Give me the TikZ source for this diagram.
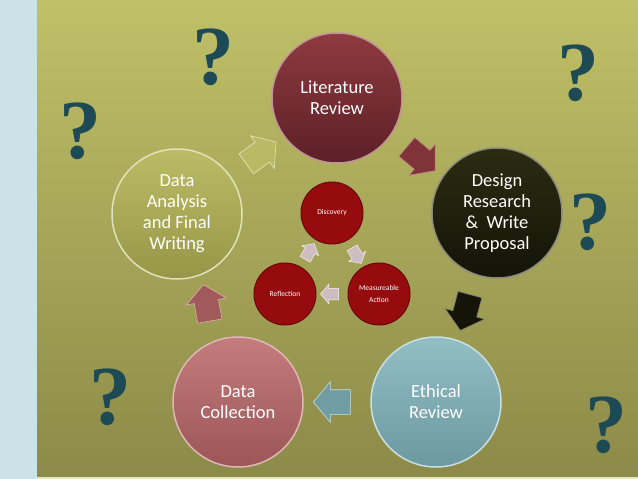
\documentclass[tikz,border=0pt]{standalone}
\usepackage{fontspec}
\setmainfont{Carlito}
\newfontfamily\qmarkfont{Liberation Serif}
\usetikzlibrary{shapes.arrows,calc}

\definecolor{stripblue}{RGB}{203,226,231}
\definecolor{olivetop}{RGB}{192,192,104}
\definecolor{olivebot}{RGB}{140,138,72}
\definecolor{qteal}{RGB}{30,74,85}
\definecolor{litA}{RGB}{142,58,64}
\definecolor{litB}{RGB}{92,32,38}
\definecolor{desA}{RGB}{44,44,18}
\definecolor{desB}{RGB}{20,20,8}
\definecolor{ethA}{RGB}{146,190,196}
\definecolor{ethB}{RGB}{108,152,160}
\definecolor{colA}{RGB}{196,124,124}
\definecolor{colB}{RGB}{156,86,88}
\definecolor{anaA}{RGB}{188,188,102}
\definecolor{anaB}{RGB}{150,150,72}
\definecolor{innerred}{RGB}{150,12,14}
\definecolor{innerpale}{RGB}{205,188,192}

\tikzset{
  stage/.style={circle, minimum size=130pt, inner sep=0pt, align=center,
    text=white, font=\fontsize{18.5}{21}\selectfont, line width=1.5pt},
  innerstage/.style={circle, minimum size=62pt, inner sep=0pt, align=center,
    text=white, fill=innerred, draw=innerred!70!black, line width=1pt,
    font=\fontsize{7.5}{12}\selectfont},
  bigarrow/.style={single arrow, minimum height=37pt, inner xsep=0pt,
    inner ysep=12pt, single arrow head extend=8pt, single arrow tip angle=100,
    line width=.6pt},
  smallarrow/.style={single arrow, minimum height=18pt, inner xsep=0pt,
    inner ysep=5.5pt, single arrow head extend=4pt, single arrow tip angle=100,
    fill=innerpale, draw=white!80!innerpale, line width=.5pt},
  qmark/.style={text=qteal, inner sep=0pt,
    font=\qmarkfont\bfseries\fontsize{84}{84}\selectfont}
}

\begin{document}
\begin{tikzpicture}[x=1pt,y=-1pt]
  \useasboundingbox (0,0) rectangle (638,479);
  % background
  \fill[top color=olivetop, bottom color=olivebot] (37,0) rectangle (638,479);
  \fill[stripblue] (0,0) rectangle (37,479);
  \fill[white!60!olivetop] (37,477) rectangle (638,479);

  % the five stages
  \node[stage, top color=litA, bottom color=litB, draw=white!45!litA] (lit) at (337,98) {Literature\\Review};
  \node[stage, top color=desA, bottom color=desB, draw=white!45!desA] (design) at (497,213) {Design\\Research\\\&~ Write\\Proposal};
  \node[stage, top color=ethA, bottom color=ethB, draw=white!50!ethA] (ethics) at (436,402) {Ethical\\Review};
  \node[stage, top color=colA, bottom color=colB, draw=white!45!colA] (collect) at (238,402) {Data\\Collection};
  \node[stage, top color=anaA, bottom color=anaB, draw=white!55!anaA] (analysis) at (177,214) {Data\\Analysis\\and Final\\Writing};

  % arrows between stages
  \node[bigarrow, fill=litA!90!black, draw=white!40!litA, rotate=-40] (a1) at ($(lit)!0.5!(design)$) {};
  \node[bigarrow, fill=desB, draw=desA!60!white, rotate=-105] (a2) at ($(design)!0.5!(ethics)$) {};
  \node[bigarrow, fill=ethB!90!ethA, draw=white!50!ethA, rotate=180] (a3) at ($(ethics)!0.5!(collect)$) {};
  \node[bigarrow, fill=colB!90!colA, draw=white!40!colA, rotate=100] (a4) at ($(collect)!0.5!(analysis)$) {};
  \node[bigarrow, fill=anaA!95!anaB, draw=white!60!anaA, rotate=36] (a5) at ($(analysis)!0.5!(lit)$) {};

  % inner cycle
  \node[innerstage] (disc) at (332,213) {Discovery};
  \node[innerstage] (meas) at (379,294) {Measureable\\Action};
  \node[innerstage] (refl) at (285,294) {Reflection};
  \node[smallarrow, rotate=-60] (b1) at ($(disc)!0.5!(meas)$) {};
  \node[smallarrow, rotate=180] (b2) at ($(meas)!0.5!(refl)$) {};
  \node[smallarrow, rotate=60] (b3) at ($(refl)!0.5!(disc)$) {};

  % question marks
  \node[qmark] (q1) at (213,57) {?};
  \node[qmark] (q2) at (80,131) {?};
  \node[qmark] (q3) at (578,73) {?};
  \node[qmark] (q4) at (590,222) {?};
  \node[qmark] (q5) at (110,397) {?};
  \node[qmark] (q6) at (606,425) {?};
\end{tikzpicture}
\end{document}
